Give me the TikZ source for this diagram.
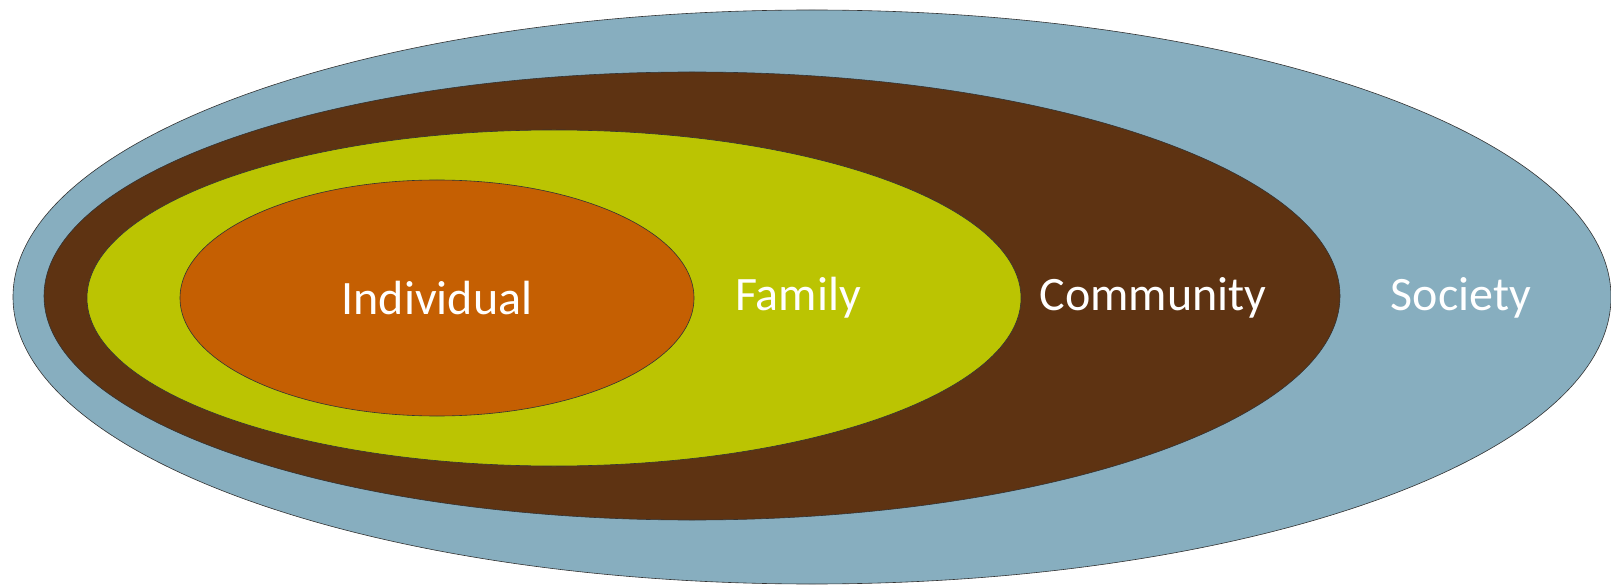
\documentclass[tikz,border=0pt]{standalone}
\usepackage{fontspec}
\setmainfont{Carlito}
\usepackage{xcolor}
\usetikzlibrary{positioning}
\definecolor{society}{RGB}{135,174,191}
\definecolor{community}{RGB}{94,51,18}
\definecolor{family}{RGB}{187,196,2}
\definecolor{individual}{RGB}{197,95,2}
\tikzset{
    ring/.style={draw=black!80, line width=0.6pt},
    label text/.style={text=white, font=\fontsize{48}{58}\selectfont, inner sep=0pt}
}

\begin{document}
\begin{tikzpicture}[x=1pt, y=-1pt]
                        \useasboundingbox (0, 0) rectangle (1611, 585);

                        \draw[ring, fill=society] (812, 297) ellipse (799pt and 287pt);
                        \draw[ring, fill=community] (692, 296) ellipse (648pt and 224pt);
                        \draw[ring, fill=family] (554, 298) ellipse (467pt and 168pt);
                        \draw[ring, fill=individual] (437, 298) ellipse (257pt and 118pt);

                        \node[label text] (individual) at (437, 298) {Individual};
                        \node[label text] (family) at (798, 298) {Family};
                        \node[label text] (community) at (1153, 298) {Community};
                        \node[label text] (society) at (1461, 298) {Society};
                    \end{tikzpicture}
\end{document}
